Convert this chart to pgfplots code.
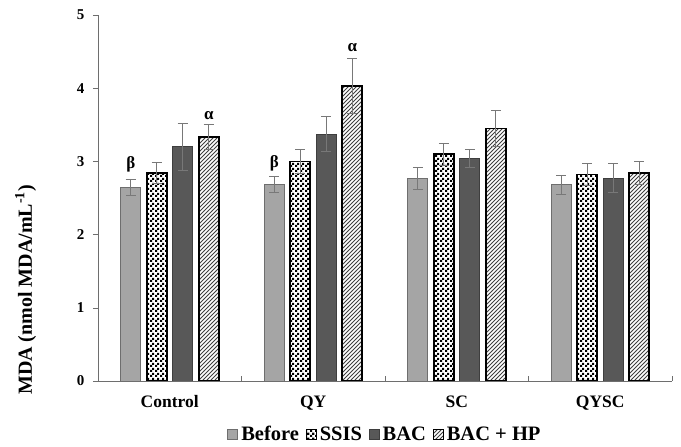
\documentclass[border=0pt]{standalone}
\usepackage{fontspec}
\setmainfont{Liberation Serif}
\usepackage{pgfplots}
\pgfplotsset{compat=1.18}
\usetikzlibrary{patterns}

\pgfdeclarepatternformonly{finechecker}{\pgfpointorigin}{\pgfqpoint{5pt}{5pt}}{\pgfqpoint{5pt}{5pt}}{%
  \pgfpathrectangle{\pgfpointorigin}{\pgfqpoint{2.5pt}{2.5pt}}%
  \pgfpathrectangle{\pgfqpoint{2.5pt}{2.5pt}}{\pgfqpoint{2.5pt}{2.5pt}}%
  \pgfusepath{fill}}
\pgfdeclarepatternformonly{finehatch}{\pgfqpoint{-1pt}{-1pt}}{\pgfqpoint{5pt}{5pt}}{\pgfqpoint{4pt}{4pt}}{%
  \pgfsetlinewidth{0.8pt}%
  \pgfpathmoveto{\pgfqpoint{0pt}{0pt}}%
  \pgfpathlineto{\pgfqpoint{4.1pt}{4.1pt}}%
  \pgfusepath{stroke}}

\definecolor{lightbar}{RGB}{165,165,165}
\definecolor{darkbar}{RGB}{88,88,88}
\definecolor{errgray}{RGB}{120,120,120}
\definecolor{axisgray}{RGB}{110,110,110}

\pgfplotstableread{
x  before bse  ssis sse  bac  bae  hp   hpe
0  2.65  0.11  2.84 0.14 3.20 0.32 3.33 0.17
1  2.69  0.11  3.00 0.16 3.37 0.24 4.03 0.38
2  2.77  0.15  3.10 0.15 3.04 0.12 3.45 0.25
3  2.68  0.13  2.82 0.15 2.77 0.20 2.84 0.16
}\mda

\begin{document}
\begin{tikzpicture}
\begin{axis}[
  scale only axis,
  width=574pt, height=366pt,
  ybar=6pt, bar width=20pt,
  xmin=-0.5, xmax=3.5,
  ymin=0, ymax=5,
  ytick={0,1,2,3,4,5},
  xtick={0,1,2,3},
  xticklabels={Control,QY,SC,QYSC},
  minor xtick={-0.5,0.5,1.5,2.5,3.5},
  major x tick style={draw=none},
  minor tick length=5pt,
  major tick length=5pt,
  tick align=inside,
  y tick style={xshift=-5pt, draw=axisgray},
  minor x tick style={draw=axisgray},
  axis x line*=bottom, axis y line*=left,
  axis line style={-, draw=axisgray, line width=0.8pt},
  yticklabel style={font=\fontsize{15}{17}\selectfont\bfseries, xshift=-10pt},
  xticklabel style={font=\fontsize{17.5}{19}\selectfont\bfseries, yshift=-11pt},
  /pgf/number format/assume math mode=true,
  ylabel={\fontsize{20}{22}\selectfont\bfseries MDA (nmol MDA/mL\textsuperscript{-1})},
  ylabel style={at={(axis description cs:-0.126,0.249)}, anchor=center},
  error bars/y dir=both, error bars/y explicit,
  error bars/error bar style={errgray, line width=0.8pt},
  error bars/error mark options={errgray, rotate=90, mark size=5pt, line width=0.8pt},
  legend style={draw=none, at={(0.5,-0.145)}, anchor=center,
    font=\fontsize{20.5}{22}\selectfont\bfseries, legend columns=4,
    /tikz/every even column/.append style={column sep=5pt},
    /tikz/every odd column/.append style={column sep=1pt}},
  legend image code/.code={\draw[#1, line width=0.8pt] (0pt,-5pt) rectangle (10pt,5pt);},
]
\addplot[fill=lightbar, draw=axisgray, line width=0.8pt] table[x=x, y=before, y error=bse] {\mda};
\addplot[pattern=finechecker, draw=black, line width=1.6pt] table[x=x, y=ssis, y error=sse] {\mda};
\addplot[fill=darkbar, draw=darkbar!70!black, line width=0.8pt] table[x=x, y=bac, y error=bae] {\mda};
\addplot[pattern=finehatch, pattern color=black!75, draw=black, line width=1.6pt] table[x=x, y=hp, y error=hpe] {\mda};
\legend{Before, SSIS, BAC, BAC + HP}
\node[font=\fontsize{17}{19}\selectfont\bfseries, xshift=-39pt] at (axis cs:0,2.96) {β};
\node[font=\fontsize{17}{19}\selectfont\bfseries, xshift=-39pt] at (axis cs:1,2.98) {β};
\node[font=\fontsize{17}{19}\selectfont\bfseries, xshift=39pt] at (axis cs:0,3.63) {α};
\node[font=\fontsize{17}{19}\selectfont\bfseries, xshift=39pt] at (axis cs:1,4.55) {α};
\end{axis}
\pgfresetboundingbox
\path[use as bounding box] (-98pt,-66pt) rectangle (583pt,381pt);
\end{tikzpicture}
\end{document}
